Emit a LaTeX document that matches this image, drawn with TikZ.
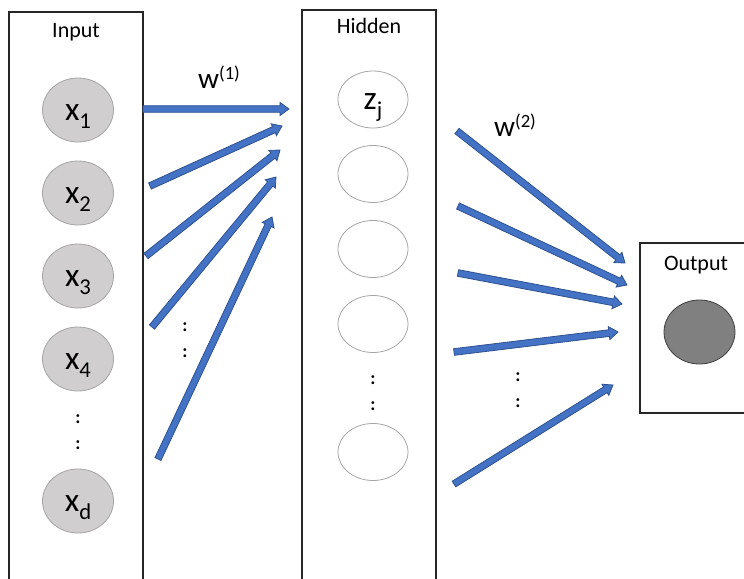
\documentclass[tikz,border=0pt]{standalone}
\usepackage{fontspec}
\setmainfont{Carlito}
\usetikzlibrary{calc,shapes.geometric}
\definecolor{arrblue}{HTML}{4472C4}
\definecolor{arrdark}{HTML}{2F528F}
\definecolor{ingray}{HTML}{D0CECE}
\definecolor{inedge}{HTML}{A5A5A5}
\definecolor{hidedge}{HTML}{A6A6A6}
\definecolor{outgray}{HTML}{808080}
\definecolor{outedge}{HTML}{404040}
\tikzset{
  blockarrow/.style={fill=arrblue, draw=arrdark, line width=0.6pt, line join=miter},
  layerbox/.style={draw=black!85, line width=0.8pt},
  layertitle/.style={anchor=base, inner sep=0pt, font=\fontsize{16.5}{19}\selectfont},
  inneuron/.style={ellipse, draw=inedge, fill=ingray, line width=0.6pt, minimum width=53.25pt, minimum height=48pt, inner sep=0pt},
  hidneuron/.style={ellipse, draw=hidedge, fill=white, line width=0.6pt, minimum width=52.5pt, minimum height=42.75pt, inner sep=0pt},
  outneuron/.style={ellipse, draw=outedge, fill=outgray, line width=0.6pt, minimum width=53.25pt, minimum height=48pt, inner sep=0pt},
  varlabel/.style={anchor=base, inner sep=0pt, font=\fontsize{25}{29}\selectfont},
  wlabel/.style={anchor=base, inner sep=0pt, font=\fontsize{22}{26}\selectfont},
  vdots/.style={align=center, inner sep=0pt, font=\bfseries\fontsize{14}{19}\selectfont}
}
\newcommand\sub[1]{\raisebox{-6pt}{\fontsize{17}{19}\selectfont #1}}
\newcommand\supr[1]{\raisebox{6.5pt}{\fontsize{14}{16}\selectfont #1}}
\newcommand\barrow[2]{%
  \coordinate (hh) at ($(#2)!6.75pt!(#1)$);
  \path[blockarrow] ($(#1)!2.5pt!90:(#2)$) -- ($(hh)!2.5pt!90:(#2)$) -- ($(hh)!4.9pt!90:(#2)$) -- (#2)
     -- ($(hh)!4.9pt!-90:(#2)$) -- ($(hh)!2.5pt!-90:(#2)$) -- ($(#1)!2.5pt!-90:(#2)$) -- cycle;}
\begin{document}
\begin{tikzpicture}[x=0.75pt, y=-0.75pt]
\useasboundingbox (0,0) rectangle (744,579);
% layer boxes
\draw[layerbox] (9,12) rectangle (143,600);
\draw[layerbox] (302,10) rectangle (436,600);
\draw[layerbox] (640,243) rectangle (760,413);
\node[layertitle] (tin) at (76,37.5) {Input};
\node[layertitle] (thid) at (369,33.5) {Hidden};
\node[layertitle] (tout) at (696,270.5) {Output};
% input neurons
\node[inneuron] (x1) at (78,110) {};
\node[inneuron] (x2) at (78,193) {};
\node[inneuron] (x3) at (78,276) {};
\node[inneuron] (x4) at (78,359) {};
\node[inneuron] (xd) at (78,501) {};
\node[varlabel] (lx1) at (78,120) {x\sub{1}};
\node[varlabel] (lx2) at (78,203) {x\sub{2}};
\node[varlabel] (lx3) at (78,286) {x\sub{3}};
\node[varlabel] (lx4) at (78,369) {x\sub{4}};
\node[varlabel] (lxd) at (78,511) {x\sub{d}};
\node[vdots] (din) at (78,432) {:\\:};
% hidden neurons
\node[hidneuron] (h1) at (373,99.5) {};
\node[hidneuron] (h2) at (373,174) {};
\node[hidneuron] (h3) at (373,249) {};
\node[hidneuron] (h4) at (373,324) {};
\node[hidneuron] (hm) at (373,452) {};
\node[varlabel] (lz) at (373,109.5) {z\sub{j}};
\node[vdots] (dhid) at (373,393) {:\\:};
% output neuron
\node[outneuron] (o) at (699.5,332) {};
% weights labels
\node[wlabel] (w1) at (219,88) {w\supr{(1)}};
\node[wlabel] (w2) at (515,136) {w\supr{(2)}};
\node[vdots] (d1) at (185,340) {:\\:};
\node[vdots] (d2) at (518,390) {:\\:};
% layer 1 arrows
\coordinate (a1s) at (143,109); \coordinate (a1e) at (289,109);
\coordinate (a2s) at (150,186); \coordinate (a2e) at (282,126);
\coordinate (a3s) at (146,256); \coordinate (a3e) at (280,150);
\coordinate (a4s) at (152,327); \coordinate (a4e) at (276,177);
\coordinate (a5s) at (158,459); \coordinate (a5e) at (272,217);
\barrow{a1s}{a1e}
\barrow{a2s}{a2e}
\barrow{a3s}{a3e}
\barrow{a4s}{a4e}
\barrow{a5s}{a5e}
% layer 2 arrows
\coordinate (b1s) at (457,131); \coordinate (b1e) at (625,263);
\coordinate (b2s) at (458,206); \coordinate (b2e) at (627,285);
\coordinate (b3s) at (458,273); \coordinate (b3e) at (622,304);
\coordinate (b4s) at (454,352); \coordinate (b4e) at (618,332);
\coordinate (b5s) at (454,484); \coordinate (b5e) at (613,385);
\barrow{b1s}{b1e}
\barrow{b2s}{b2e}
\barrow{b3s}{b3e}
\barrow{b4s}{b4e}
\barrow{b5s}{b5e}
\end{tikzpicture}
\end{document}
